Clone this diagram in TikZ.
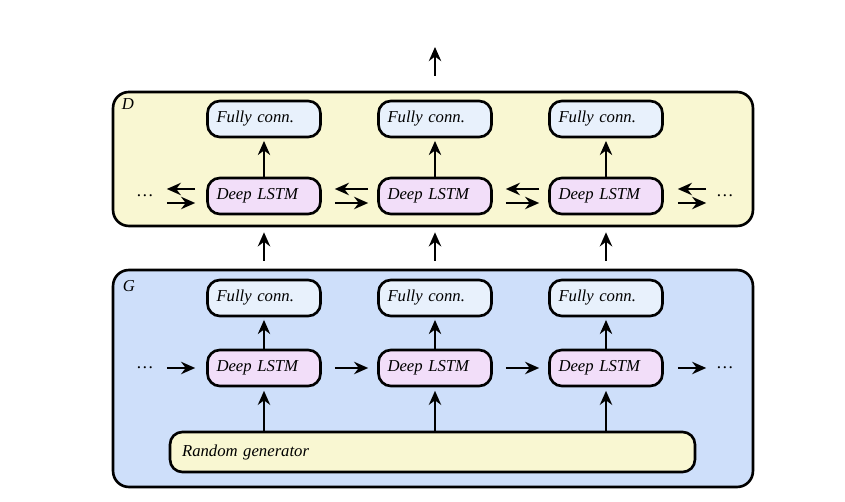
\documentclass[tikz,border=0pt]{standalone}
\usepackage{fontspec}
\setmainfont{Liberation Serif}
\usetikzlibrary{arrows.meta}
\definecolor{dyellow}{RGB}{249,247,210}
\definecolor{gblue}{RGB}{206,223,250}
\definecolor{fcblue}{RGB}{232,241,252}
\definecolor{lstmpink}{RGB}{242,222,249}
\tikzset{
  frame/.style={draw, line width=1.5pt, rounded corners=9pt},
  blk/.style={draw, line width=1.5pt, rounded corners=7pt, inner xsep=0.18cm,
    align=left, font=\fontsize{9.5}{11}\selectfont\itshape},
  fc/.style={blk, fill=fcblue, text width=1.9cm, minimum height=0.72cm},
  lstm/.style={blk, fill=lstmpink, text width=1.9cm, minimum height=0.72cm},
  lbl/.style={font=\fontsize{9.5}{11}\selectfont\itshape},
}
\begin{document}
\begin{tikzpicture}[x=0.02cm,y=-0.02cm,line width=1.3pt,
    >={Stealth[length=8pt,width=7pt]}]
  \useasboundingbox (0,0) rectangle (845,502);
  % the two frames
  \node[frame, fill=dyellow, minimum width=12.8cm, minimum height=2.68cm] (D) at (433,159) {};
  \node[frame, fill=gblue, minimum width=12.8cm, minimum height=4.34cm] (G) at (433,378.5) {};
  \node[lbl] (Dlbl) at (128,104) {D};
  \node[lbl] (Glbl) at (129,286) {G};
  \node[blk, fill=dyellow, text width=10.02cm, inner xsep=0.24cm, minimum height=0.8cm] (rng) at (432.5,452) {Random generator};
  % columns
  \foreach \x [count=\i] in {264,435,606}{
    \node[fc] (dfc\i) at (\x,119) {Fully conn.};
    \node[lstm] (dl\i) at (\x,196) {Deep LSTM};
    \node[fc] (gfc\i) at (\x,298) {Fully conn.};
    \node[lstm] (gl\i) at (\x,368) {Deep LSTM};
    \draw[->, shorten >=1.5pt] (dl\i) -- (dfc\i);
    \draw[->, shorten >=1.5pt] (gl\i) -- (gfc\i);
    \draw[->, shorten >=2pt] (gl\i |- rng.north) -- (gl\i);
    \draw[->, shorten <=0.16cm, shorten >=0.1cm] (gfc\i |- G.north) -- (dl\i |- D.south);
  }
  % output
  \coordinate (outa) at (435,76);
  \coordinate (outb) at (435,47);
  \draw[->] (outa) -- (outb);
  % dots
  \node (gdl) at (145,368) {\dots};
  \node (gdr) at (725,368) {\dots};
  \node (ddl) at (145,196) {\dots};
  \node (ddr) at (725,196) {\dots};
  % generator chain
  \begin{scope}[->]
    \draw[shorten <=0.12cm, shorten >=0.22cm] (gdl) -- (gl1);
    \draw[shorten <=0.26cm, shorten >=0.18cm] (gl1) -- (gl2);
    \draw[shorten <=0.26cm, shorten >=0.18cm] (gl2) -- (gl3);
    \draw[shorten <=0.28cm, shorten >=0.06cm] (gl3) -- (gdr);
  \end{scope}
  % discriminator, both ways
  \begin{scope}[->]
    \draw[shorten <=0.12cm, shorten >=0.22cm] ([yshift=-0.14cm]ddl.east) -- ([yshift=-0.14cm]dl1.west);
    \draw[shorten <=0.26cm, shorten >=0.18cm] ([yshift=-0.14cm]dl1.east) -- ([yshift=-0.14cm]dl2.west);
    \draw[shorten <=0.26cm, shorten >=0.18cm] ([yshift=-0.14cm]dl2.east) -- ([yshift=-0.14cm]dl3.west);
    \draw[shorten <=0.28cm, shorten >=0.06cm] ([yshift=-0.14cm]dl3.east) -- ([yshift=-0.14cm]ddr.west);
    \draw[shorten >=0.12cm, shorten <=0.22cm] ([yshift=0.14cm]dl1.west) -- ([yshift=0.14cm]ddl.east);
    \draw[shorten >=0.26cm, shorten <=0.18cm] ([yshift=0.14cm]dl2.west) -- ([yshift=0.14cm]dl1.east);
    \draw[shorten >=0.26cm, shorten <=0.18cm] ([yshift=0.14cm]dl3.west) -- ([yshift=0.14cm]dl2.east);
    \draw[shorten >=0.28cm, shorten <=0.06cm] ([yshift=0.14cm]ddr.west) -- ([yshift=0.14cm]dl3.east);
  \end{scope}
\end{tikzpicture}
\end{document}
